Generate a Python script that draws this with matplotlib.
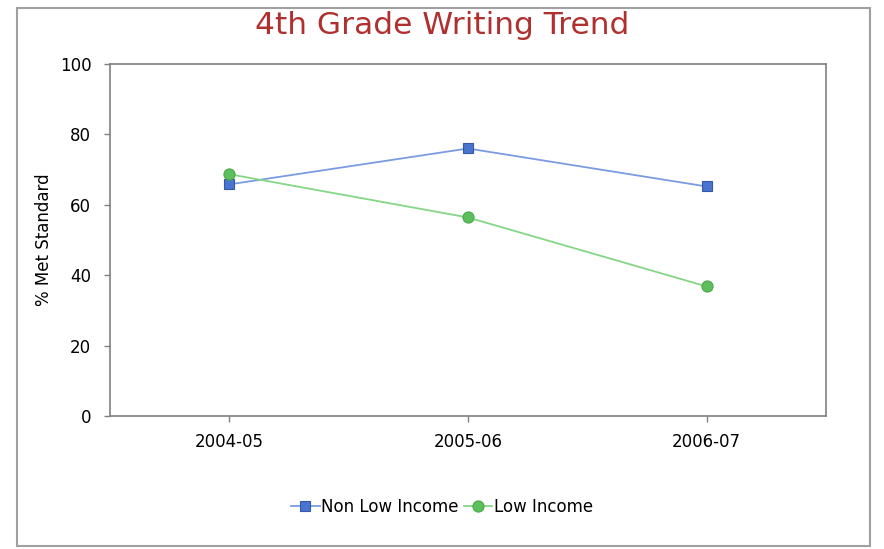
import matplotlib
matplotlib.use("Agg")
from matplotlib import pyplot as plt
from matplotlib.patches import Rectangle

# data
years = ["2004-05", "2005-06", "2006-07"]
non_low_income = [65.8, 76.0, 65.2]
low_income = [68.7, 56.4, 36.8]
y_ticks = [0, 20, 40, 60, 80, 100]

grey = "#808080"

fig = plt.figure(figsize=(8.84, 5.49), dpi=100)
ax = fig.add_axes([110/884, 1 - 416/549, (826 - 110)/884, (416 - 64)/549])

x = list(range(len(years)))
ax.plot(x, non_low_income, color="#7b9be0", lw=1.3, marker="s", ms=7.5,
        mfc="#4a74d0", mec="#3558a8", mew=0.8, label="Non Low Income")
ax.plot(x, low_income, color="#85d685", lw=1.3, marker="o", ms=8,
        mfc="#5cbf5c", mec="#4aa84a", mew=0.8, label="Low Income")

ax.set_xlim(-0.5, len(years) - 0.5)
ax.set_ylim(0, 100)
ax.set_xticks(x)
ax.set_xticklabels(years)
ax.set_yticks(y_ticks)
ax.tick_params(axis="both", colors=grey, labelcolor="black", labelsize=12,
               length=4.5, width=1, direction="out")
ax.tick_params(axis="x", pad=8)
ax.tick_params(axis="y", pad=9)
for s in ax.spines.values():
    s.set_color(grey)
    s.set_linewidth(1.2)
ax.set_ylabel("% Met Standard", fontsize=12, labelpad=5)

fig.text(0.5, 1 - 25/549, "4th Grade Writing Trend", ha="center", va="center",
         fontsize=22.5, color="#b03030")

fig.legend(loc="center", bbox_to_anchor=(0.5, 1 - 507/549), ncol=2,
           frameon=False, fontsize=12, handlelength=1.7, handletextpad=0.1,
           columnspacing=0.3, borderpad=0)

# outer frame
fig.patches.append(Rectangle((17/884, 1 - 546/549), (870 - 17)/884, (546 - 8)/549,
                             transform=fig.transFigure, fill=False,
                             edgecolor="#a0a0a0", lw=1.5))

fig.savefig("out.png", dpi=100)
